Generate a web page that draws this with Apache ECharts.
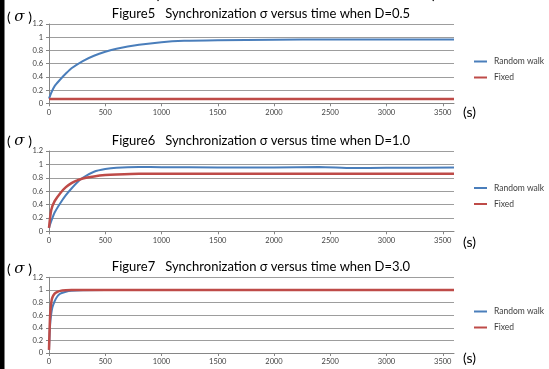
<!DOCTYPE html>
<html>
<head>
<meta charset="utf-8">
<script src="https://cdn.jsdelivr.net/npm/echarts@6/dist/echarts.min.js"></script>
<style>
  html, body { margin: 0; background: #fff; }
  #chart { width: 549px; height: 369px; }
</style>
</head>
<body>
<div id="chart"></div>
<script>
// figure titles, one per panel
const titles = [
  "Figure5   Synchronization σ versus time when D=0.5",
  "Figure6   Synchronization σ versus time when D=1.0",
  "Figure7   Synchronization σ versus time when D=3.0",
];
const seriesNames = ["Random walk", "Fixed"];

// time axis (s) and sigma axis ranges
const X_MAX = 3600, X_STEP = 500;
const Y_MAX = 1.2, Y_STEP = 0.2;

// D = 0.5
const rwTime1 = [0, 20, 50, 100, 150, 200, 300, 400, 500, 600, 800, 1000, 1200, 1500, 2000, 2500, 3000, 3600];
const rwSigma1 = [0.07, 0.16, 0.26, 0.36, 0.45, 0.53, 0.64, 0.72, 0.78, 0.825, 0.885, 0.925, 0.945, 0.955, 0.963, 0.965, 0.965, 0.965];
const fxTime1 = [0, 3600];
const fxSigma1 = [0.065, 0.065];

// D = 1.0
const rwTime2 = [0, 20, 50, 100, 150, 200, 250, 300, 400, 500, 600, 800, 1000, 1500, 2000, 2400, 2700, 3000, 3600];
const rwSigma2 = [0.05, 0.15, 0.28, 0.42, 0.54, 0.64, 0.73, 0.8, 0.89, 0.93, 0.95, 0.96, 0.958, 0.955, 0.955, 0.96, 0.945, 0.95, 0.952];
const fxTime2 = [0, 20, 50, 100, 150, 200, 250, 300, 400, 500, 600, 800, 3600];
const fxSigma2 = [0.05, 0.32, 0.45, 0.57, 0.66, 0.72, 0.76, 0.79, 0.82, 0.84, 0.85, 0.86, 0.86];

// D = 3.0
const rwTime3 = [0, 10, 20, 30, 50, 75, 100, 150, 200, 300, 500, 3600];
const rwSigma3 = [0.05, 0.45, 0.62, 0.72, 0.82, 0.9, 0.94, 0.97, 0.985, 0.995, 1, 1];
const fxTime3 = [0, 10, 20, 30, 50, 75, 100, 150, 200, 3600];
const fxSigma3 = [0.05, 0.6, 0.8, 0.88, 0.94, 0.97, 0.985, 0.995, 1, 1];

const panels = [
  { rw: [rwTime1, rwSigma1], fx: [fxTime1, fxSigma1] },
  { rw: [rwTime2, rwSigma2], fx: [fxTime2, fxSigma2] },
  { rw: [rwTime3, rwSigma3], fx: [fxTime3, fxSigma3] },
];

// layout
const gridTops = [24, 151, 277.3];
const gridHeights = [79.3, 80.3, 75.7];
const sigmaLabelY = [17, 141, 269];
const secLabelY = [112, 242, 358];
const legendTops = [57, 183.5, 307];

const BLUE = "#4a7ebb", RED = "#be4b48", GRID = "#9d9d9d", AXIS = "#868686", TXT = "#404040";
const FONT = "Lato, 'Open Sans', sans-serif";

const zip = (xs, ys) => xs.map((x, i) => [x, ys[i]]);

const chart = echarts.init(document.getElementById("chart"), null, { renderer: "canvas" });

const grid = [], xAxis = [], yAxis = [], series = [], legend = [], graphic = [];

panels.forEach((p, i) => {
  grid.push({ left: 49, width: 405, top: gridTops[i], height: gridHeights[i] });
  xAxis.push({
    type: "value", gridIndex: i, min: 0, max: X_MAX, interval: X_STEP,
    axisLine: { show: true, lineStyle: { color: AXIS, width: 1 } },
    axisTick: { show: true, length: 3, lineStyle: { color: AXIS } },
    axisLabel: { color: TXT, fontSize: 7.5, fontFamily: FONT, margin: 5, showMaxLabel: false, formatter: (v) => String(v) },
    splitLine: { show: false },
  });
  yAxis.push({
    type: "value", gridIndex: i, min: 0, max: Y_MAX, interval: Y_STEP,
    axisLine: { show: true, lineStyle: { color: AXIS, width: 1 } },
    axisTick: { show: true, length: 3, lineStyle: { color: AXIS } },
    axisLabel: { color: TXT, fontSize: 7.5, fontFamily: FONT, margin: 6 },
    splitLine: { show: true, lineStyle: { color: GRID, width: 1 } },
  });
  series.push({
    name: seriesNames[0], type: "line", xAxisIndex: i, yAxisIndex: i,
    data: zip(p.rw[0], p.rw[1]), showSymbol: false, smooth: 0.25,
    lineStyle: { color: BLUE, width: 2 }, itemStyle: { color: BLUE },
  });
  series.push({
    name: seriesNames[1], type: "line", xAxisIndex: i, yAxisIndex: i,
    data: zip(p.fx[0], p.fx[1]), showSymbol: false, smooth: 0.25,
    lineStyle: { color: RED, width: 2.5 }, itemStyle: { color: RED },
  });
  legend.push({
    data: seriesNames, orient: "vertical", left: 474, top: legendTops[i],
    itemWidth: 13, itemHeight: 2, itemGap: 7, icon: "rect",
    textStyle: { fontSize: 8.5, color: TXT, fontFamily: FONT, padding: [0, 0, 0, 2] },
    padding: 0,
  });
  graphic.push({
    type: "text", x: 261, y: gridTops[i] - 10,
    style: { text: titles[i], font: "13px " + FONT, fill: "#000", textAlign: "center", textVerticalAlign: "middle" },
  });
  graphic.push({
    type: "text", x: 7, y: sigmaLabelY[i],
    style: {
      text: "( {i|σ} )",
      rich: { i: { fontStyle: "italic", fontSize: 15, fontFamily: "'DejaVu Serif', serif" } },
      font: "14px " + FONT, fill: "#000", textVerticalAlign: "middle",
    },
  });
  graphic.push({
    type: "text", x: 463, y: secLabelY[i],
    style: { text: "(s)", font: "14px " + FONT, fill: "#000", textVerticalAlign: "middle" },
  });
});

// cropped heading above the figure and the dark left edge
graphic.push({ type: "text", x: 155, y: -6, style: { text: "(", font: "16px " + FONT, fill: "#000", textVerticalAlign: "middle" } });
graphic.push({ type: "text", x: 432, y: -6, style: { text: ")", font: "16px " + FONT, fill: "#000", textVerticalAlign: "middle" } });
graphic.push({ type: "rect", left: 0, top: 0, shape: { width: 4.5, height: 369 }, style: { fill: "#000" } });

chart.setOption({
  backgroundColor: "#fff",
  animation: false,
  grid, xAxis, yAxis, series, legend, graphic,
});
</script>
</body>
</html>
